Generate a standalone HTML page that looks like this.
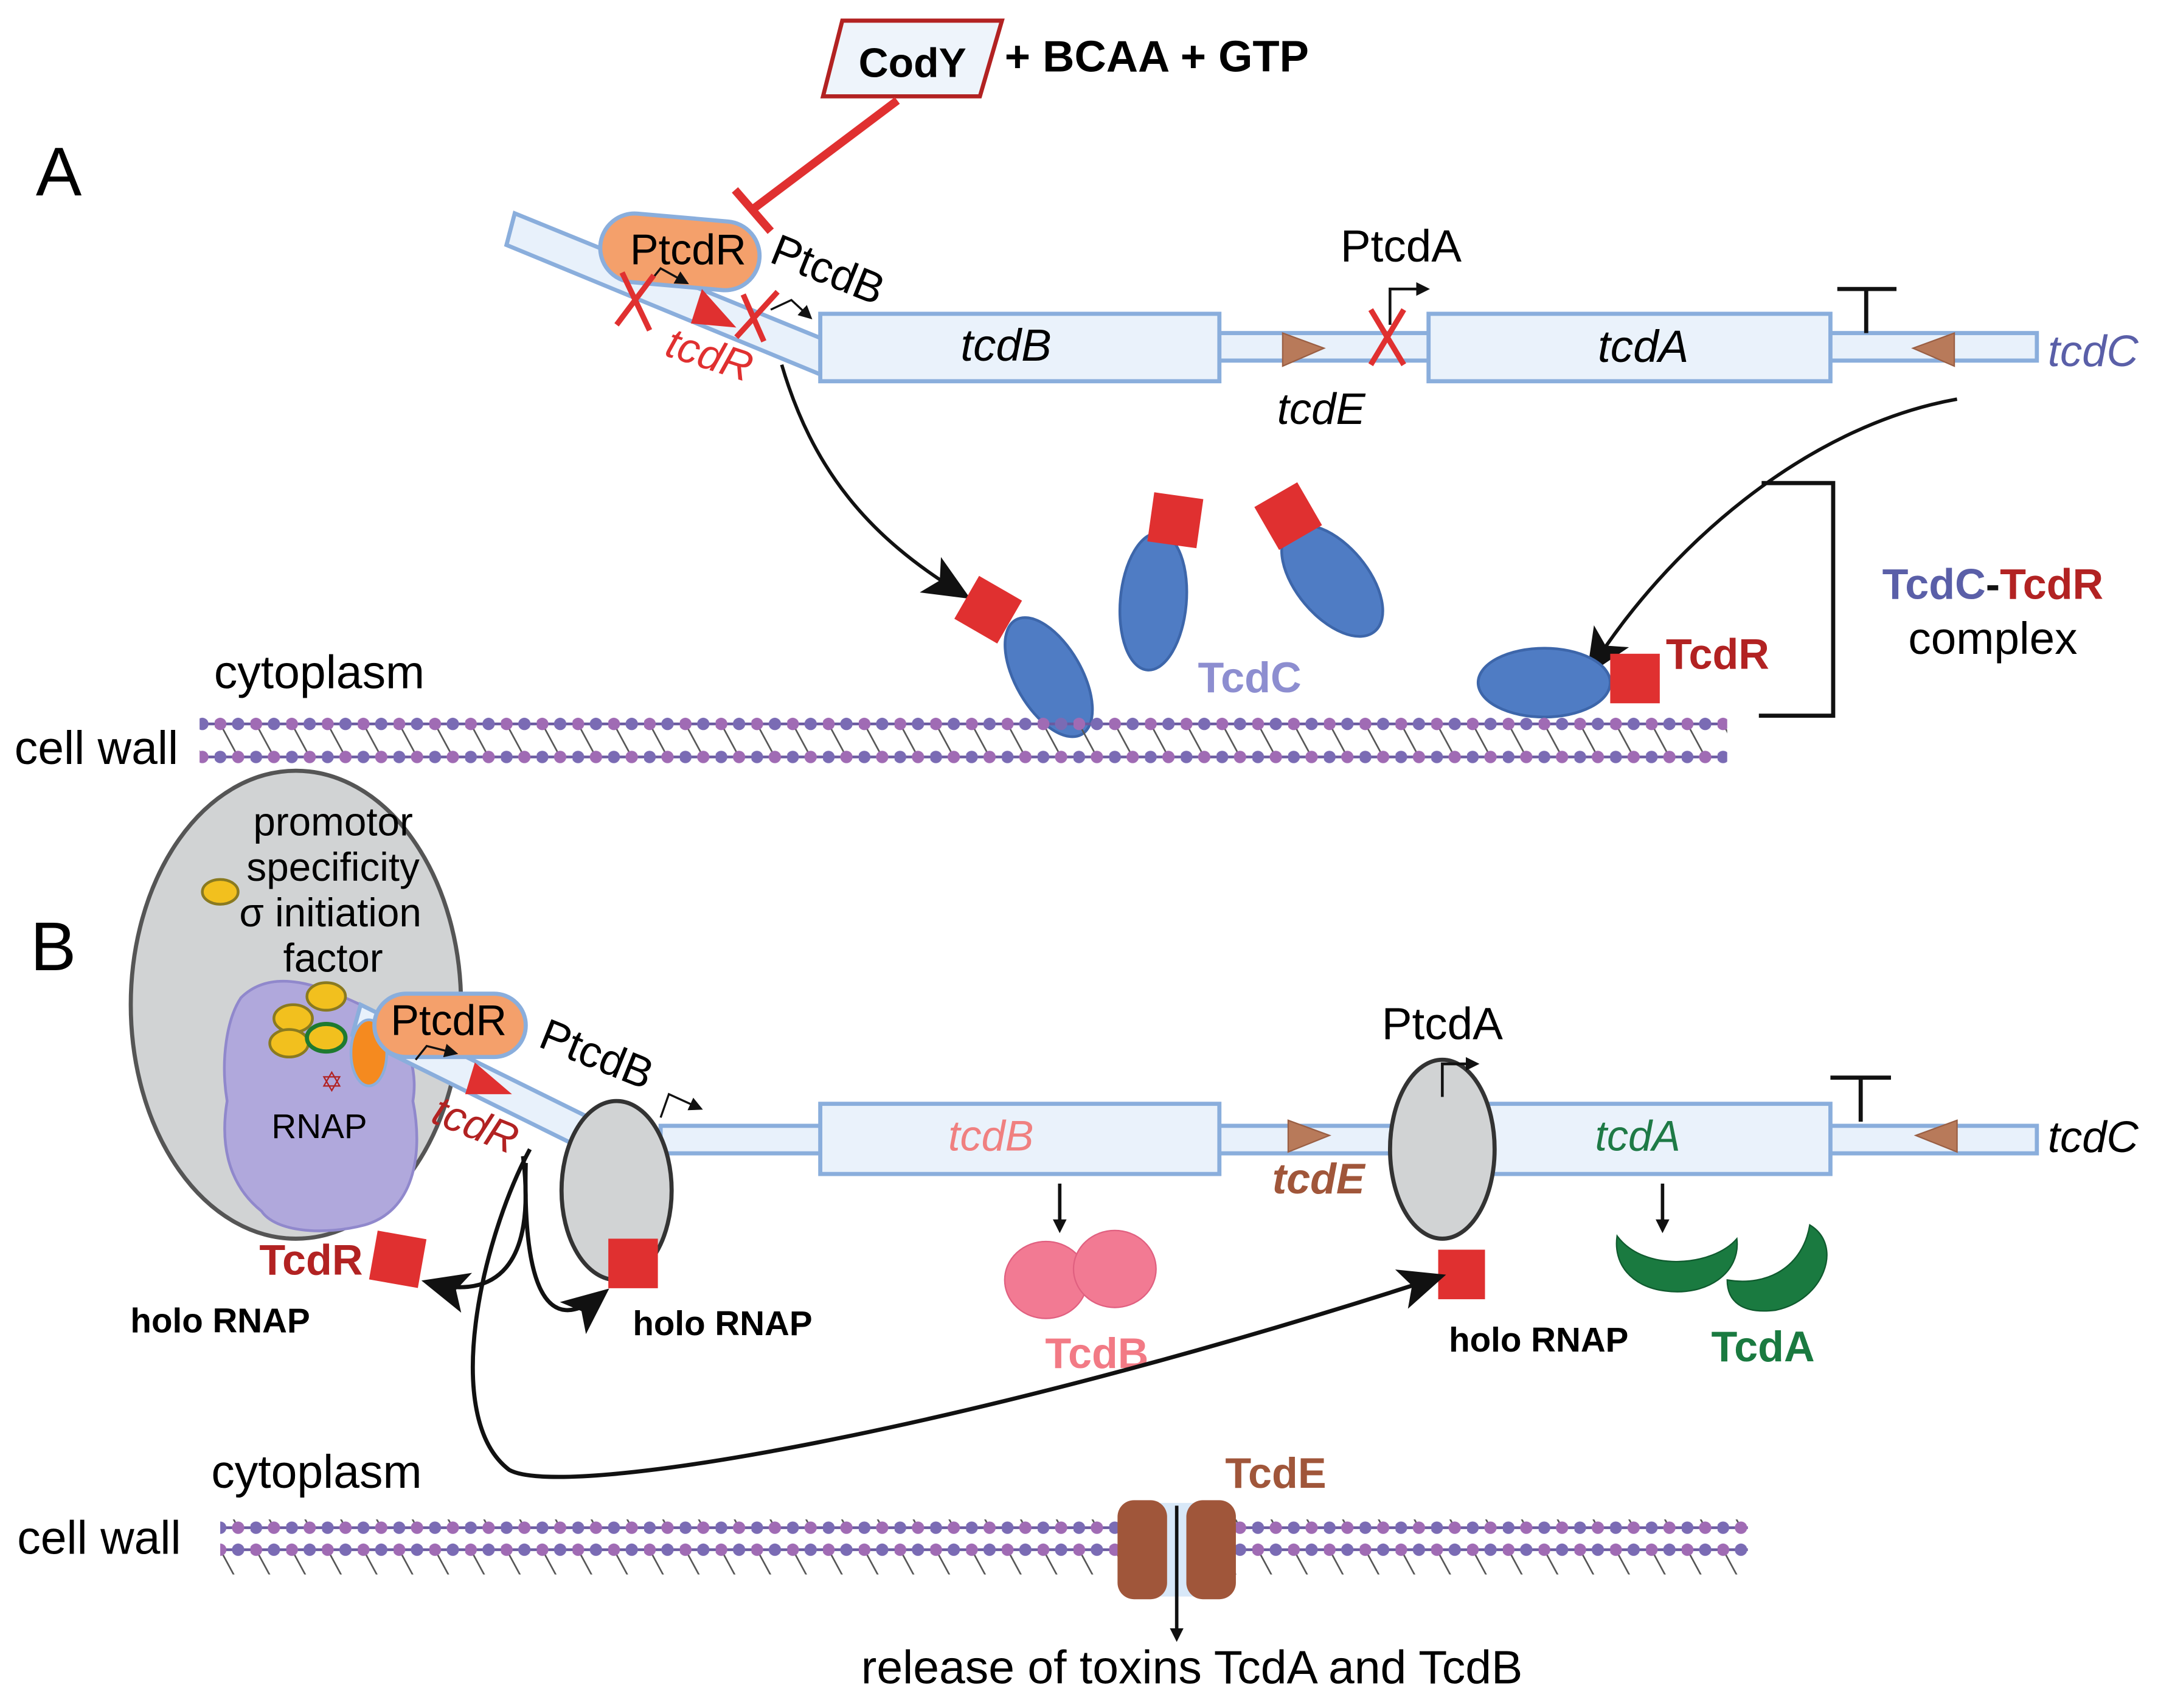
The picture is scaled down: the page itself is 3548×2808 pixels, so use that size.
<!DOCTYPE html>
<html><head><meta charset="utf-8"><style>
html,body{margin:0;padding:0;background:#fff}
svg{display:block}
text{font-family:"Liberation Sans",sans-serif}
</style></head><body>
<svg width="3548" height="2808" viewBox="0 0 1568 1241" xmlns="http://www.w3.org/2000/svg">
<defs>
<pattern id="mem" x="0" y="0" width="26" height="40" patternUnits="userSpaceOnUse">
<line x1="0" y1="6" x2="26" y2="6" stroke="#6a5aa0" stroke-width="2"/>
<line x1="0" y1="30" x2="26" y2="30" stroke="#6a5aa0" stroke-width="2"/>
<line x1="4" y1="6" x2="17" y2="30" stroke="#555" stroke-width="1.2"/>
<circle cx="4" cy="6" r="4.5" fill="#a06bb4"/><circle cx="17" cy="6" r="4.5" fill="#7a6bb4"/>
<circle cx="4" cy="30" r="4.5" fill="#7a6bb4"/><circle cx="17" cy="30" r="4.5" fill="#a06bb4"/>
</pattern>
<marker id="ah" markerWidth="10" markerHeight="10" refX="7" refY="5" orient="auto" markerUnits="userSpaceOnUse"><path d="M0,0 L10,5 L0,10z" fill="#111"/></marker>
<marker id="big" markerWidth="34" markerHeight="30" refX="28" refY="15" orient="auto" markerUnits="userSpaceOnUse"><path d="M0,0 L34,15 L0,30 L8,15z" fill="#111"/></marker>
</defs>
<rect width="1568" height="1241" fill="#fff"/>

<!-- A -->
<text x="26" y="142" font-size="50">A</text>
<polygon points="612,15 728,15 712,70 598,70" fill="#eef4fb" stroke="#b22222" stroke-width="3"/>
<text x="663" y="56" font-size="30" font-weight="bold" text-anchor="middle">CodY</text>
<text x="730" y="52" font-size="32" font-weight="bold">+ BCAA + GTP</text>
<line x1="652" y1="73" x2="547" y2="152" stroke="#e03030" stroke-width="6"/>
<line x1="534" y1="138" x2="560" y2="168" stroke="#e03030" stroke-width="6"/>

<polygon points="374,155 602,248 596,272 368,178" fill="#e8f1fb" stroke="#8aaedc" stroke-width="3"/>
<rect x="600" y="242" width="880" height="20" fill="#e8f1fb" stroke="#8aaedc" stroke-width="3"/>
<rect x="596" y="228" width="290" height="49" fill="#eaf2fb" stroke="#8aaedc" stroke-width="3"/>
<rect x="1038" y="228" width="292" height="49" fill="#eaf2fb" stroke="#8aaedc" stroke-width="3"/>
<text x="731" y="262" font-size="33" font-style="italic" text-anchor="middle">tcdB</text>
<text x="1194" y="263" font-size="33" font-style="italic" text-anchor="middle">tcdA</text>
<rect x="436" y="158" width="116" height="50" rx="25" fill="#f4a06b" stroke="#8aaedc" stroke-width="3" transform="rotate(5 494 183)"/>
<text x="500" y="192" font-size="31" text-anchor="middle">PtcdR</text>
<text x="558" y="190" font-size="32" transform="rotate(22 558 190)">PtcdB</text>
<path d="M472,205 L480,195 L498,205" fill="none" stroke="#111" stroke-width="1.5" marker-end="url(#ah)"/>
<path d="M560,225 L575,218 L588,230" fill="none" stroke="#111" stroke-width="1.5" marker-end="url(#ah)"/>
<g stroke="#e03030" stroke-width="4">
<line x1="452" y1="198" x2="472" y2="240"/><line x1="475" y1="200" x2="448" y2="236"/>
<line x1="540" y1="214" x2="555" y2="248"/><line x1="565" y1="212" x2="535" y2="245"/>
<line x1="996" y1="225" x2="1020" y2="265"/><line x1="1020" y1="225" x2="996" y2="265"/>
</g>
<polygon points="510,210 535,238 502,235" fill="#e03030"/>
<text x="482" y="258" font-size="31" font-style="italic" fill="#e03030" transform="rotate(18 482 258)">tcdR</text>
<polygon points="932,242 962,253 932,266" fill="#b87a5a" stroke="#9a5f44"/>
<polygon points="1420,242 1390,253 1420,266" fill="#b87a5a" stroke="#9a5f44"/>
<text x="1018" y="190" font-size="33" text-anchor="middle">PtcdA</text>
<path d="M1010,236 L1010,210 L1036,210" fill="none" stroke="#111" stroke-width="2" marker-end="url(#ah)"/>
<path d="M1335,210 L1378,210 M1356,210 L1356,242" stroke="#111" stroke-width="3"/>
<text x="1488" y="266" font-size="32" font-style="italic" fill="#5a5fa8">tcdC</text>
<text x="960" y="308" font-size="32" font-style="italic" text-anchor="middle">tcdE</text>
<path d="M568,265 C590,340 630,390 700,432" fill="none" stroke="#111" stroke-width="2.5" marker-end="url(#big)"/>
<path d="M1422,290 C1310,310 1210,400 1156,486" fill="none" stroke="#111" stroke-width="2.5" marker-end="url(#big)"/>
<path d="M1280,351 L1332,351 L1332,520 L1278,520" fill="none" stroke="#111" stroke-width="3"/>
<text x="1448" y="435" font-size="31" font-weight="bold" text-anchor="middle"><tspan fill="#5a5fa8">TcdC</tspan><tspan fill="#111">-</tspan><tspan fill="#b22222">TcdR</tspan></text>
<text x="1448" y="475" font-size="33" text-anchor="middle">complex</text>
<g fill="#4f7cc4" stroke="#3d66aa" stroke-width="2">
<ellipse cx="762" cy="492" rx="24" ry="48" transform="rotate(-30 762 492)"/>
<ellipse cx="838" cy="437" rx="24" ry="50" transform="rotate(5 838 437)"/>
<ellipse cx="968" cy="422" rx="26" ry="48" transform="rotate(-40 968 422)"/>
<ellipse cx="1122" cy="496" rx="48" ry="25"/>
</g>
<g fill="#e03030">
<rect x="700" y="425" width="36" height="36" transform="rotate(30 718 443)"/>
<rect x="836" y="360" width="36" height="36" transform="rotate(8 854 378)"/>
<rect x="918" y="357" width="36" height="36" transform="rotate(-30 936 375)"/>
<rect x="1170" y="475" width="36" height="36"/>
</g>
<text x="908" y="503" font-size="31" font-weight="bold" fill="#8d8ed0" text-anchor="middle">TcdC</text>
<text x="1248" y="486" font-size="31" font-weight="bold" fill="#b22222" text-anchor="middle">TcdR</text>
<text x="232" y="500" font-size="34" text-anchor="middle">cytoplasm</text>
<text x="70" y="555" font-size="34" text-anchor="middle">cell wall</text>
<rect x="145" y="518" width="1110" height="40" fill="url(#mem)"/>

<!-- B -->
<text x="22" y="705" font-size="50">B</text>
<ellipse cx="215" cy="730" rx="120" ry="170" fill="#d1d3d4" stroke="#555" stroke-width="3"/>
<g font-size="29" text-anchor="middle"><text x="242" y="607">promotor</text><text x="242" y="640">specificity</text><text x="240" y="673">σ initiation</text><text x="242" y="706">factor</text></g>
<ellipse cx="160" cy="648" rx="13" ry="9" fill="#f2c01e" stroke="#8a7a20" stroke-width="2"/>
<path d="M175,725 C200,700 240,720 262,730 C290,740 305,770 300,800 C308,840 300,880 265,890 C235,898 200,895 190,880 C165,860 160,830 165,800 C160,770 165,740 175,725z" fill="#b0a8dc" stroke="#9088cc" stroke-width="2"/>
<text x="232" y="827" font-size="25" text-anchor="middle">RNAP</text>
<text x="241" y="793" font-size="20" fill="#b22222" text-anchor="middle">✡</text>
<g fill="#f2c01e" stroke="#8a7a20" stroke-width="2">
<ellipse cx="237" cy="724" rx="14" ry="10"/><ellipse cx="213" cy="740" rx="14" ry="10"/><ellipse cx="210" cy="758" rx="14" ry="10"/>
<ellipse cx="237" cy="754" rx="14" ry="10" stroke="#1e7a30" stroke-width="3"/>
</g>
<polygon points="262,730 428,812 422,834 256,752" fill="#e8f1fb" stroke="#8aaedc" stroke-width="3"/>
<ellipse cx="268" cy="765" rx="13" ry="24" fill="#f58a1f" stroke="#8aaedc" stroke-width="2"/>
<rect x="272" y="722" width="110" height="46" rx="23" fill="#f4a06b" stroke="#8aaedc" stroke-width="3"/>
<text x="326" y="752" font-size="31" text-anchor="middle">PtcdR</text>
<path d="M302,770 L310,760 L330,765" fill="none" stroke="#111" stroke-width="1.5" marker-end="url(#ah)"/>
<text x="390" y="760" font-size="32" transform="rotate(22 390 760)">PtcdB</text>
<path d="M480,812 L486,795 L508,805" fill="none" stroke="#111" stroke-width="1.5" marker-end="url(#ah)"/>
<polygon points="345,772 372,795 338,795" fill="#e03030"/>
<text x="312" y="815" font-size="31" font-style="italic" fill="#b22222" transform="rotate(22 312 815)">tcdR</text>
<rect x="480" y="818" width="1000" height="20" fill="#e8f1fb" stroke="#8aaedc" stroke-width="3"/>
<ellipse cx="448" cy="865" rx="40" ry="65" fill="#d1d3d4" stroke="#333" stroke-width="3"/>
<rect x="442" y="900" width="36" height="36" fill="#e03030"/>
<rect x="596" y="802" width="290" height="51" fill="#eaf2fb" stroke="#8aaedc" stroke-width="3"/>
<rect x="1070" y="802" width="260" height="51" fill="#eaf2fb" stroke="#8aaedc" stroke-width="3"/>
<ellipse cx="1048" cy="835" rx="38" ry="65" fill="#d1d3d4" stroke="#333" stroke-width="3"/>
<rect x="1045" y="908" width="34" height="36" fill="#e03030"/>
<text x="720" y="836" font-size="31" font-style="italic" fill="#f08080" text-anchor="middle">tcdB</text>
<text x="1190" y="836" font-size="31" font-style="italic" fill="#1e7a46" text-anchor="middle">tcdA</text>
<text x="1048" y="755" font-size="33" text-anchor="middle">PtcdA</text>
<path d="M1048,797 L1048,773 L1072,773" fill="none" stroke="#111" stroke-width="2" marker-end="url(#ah)"/>
<polygon points="936,814 966,825 936,837" fill="#b87a5a" stroke="#9a5f44"/>
<polygon points="1422,814 1392,825 1422,837" fill="#b87a5a" stroke="#9a5f44"/>
<text x="958" y="867" font-size="31" font-weight="bold" font-style="italic" fill="#a0563a" text-anchor="middle">tcdE</text>
<path d="M1330,783 L1374,783 M1352,783 L1352,815" stroke="#111" stroke-width="3"/>
<text x="1488" y="837" font-size="32" font-style="italic">tcdC</text>
<path d="M770,860 L770,893" stroke="#111" stroke-width="2.5" marker-end="url(#ah)"/>
<path d="M1208,860 L1208,893" stroke="#111" stroke-width="2.5" marker-end="url(#ah)"/>
<g fill="#f27a93" stroke="#e06080"><ellipse cx="760" cy="930" rx="30" ry="28"/><ellipse cx="810" cy="922" rx="30" ry="28"/></g>
<text x="797" y="994" font-size="31" font-weight="bold" fill="#f27a85" text-anchor="middle">TcdB</text>
<g fill="#1a7a40" stroke="#0f5a2e"><path d="M1175,898 C1195,925 1245,920 1262,900 C1265,925 1240,942 1210,938 C1185,935 1172,918 1175,898z"/><path d="M1315,890 C1340,905 1325,945 1290,952 C1265,955 1255,945 1255,930 C1285,935 1310,920 1315,890z"/></g>
<text x="1281" y="989" font-size="31" font-weight="bold" fill="#1a7a40" text-anchor="middle">TcdA</text>
<text x="226" y="926" font-size="31" font-weight="bold" fill="#b22222" text-anchor="middle">TcdR</text>
<rect x="271" y="897" width="36" height="36" fill="#e03030" transform="rotate(10 289 915)"/>
<g font-size="25" font-weight="bold" text-anchor="middle"><text x="160" y="968">holo RNAP</text><text x="525" y="970">holo RNAP</text><text x="1118" y="982">holo RNAP</text></g>
<path d="M380,840 C390,920 360,945 312,932" fill="none" stroke="#111" stroke-width="3" marker-end="url(#big)"/>
<path d="M382,845 C380,930 395,975 438,940" fill="none" stroke="#111" stroke-width="3" marker-end="url(#big)"/>
<path d="M385,835 C350,900 320,1030 370,1068 C410,1090 700,1040 1045,928" fill="none" stroke="#111" stroke-width="3" marker-end="url(#big)"/>
<text x="230" y="1081" font-size="34" text-anchor="middle">cytoplasm</text>
<text x="72" y="1129" font-size="34" text-anchor="middle">cell wall</text>
<rect x="160" y="1104" width="1110" height="40" fill="url(#mem)"/>
<rect x="840" y="1092" width="28" height="68" fill="#d8e8f8"/>
<rect x="812" y="1090" width="36" height="72" rx="12" fill="#a0563a"/>
<rect x="862" y="1090" width="36" height="72" rx="12" fill="#a0563a"/>
<path d="M855,1094 L855,1190" stroke="#111" stroke-width="2.5" marker-end="url(#ah)"/>
<text x="927" y="1081" font-size="31" font-weight="bold" fill="#a0563a" text-anchor="middle">TcdE</text>
<text x="866" y="1223" font-size="34" text-anchor="middle">release of toxins TcdA and TcdB</text>
</svg>
</body></html>
